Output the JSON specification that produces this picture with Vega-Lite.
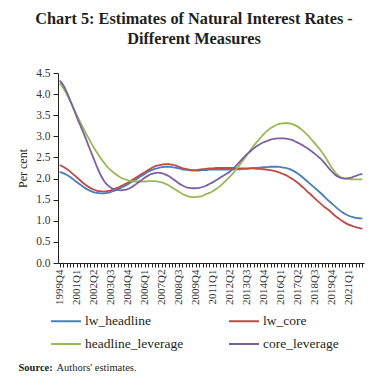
{
  "$schema": "https://vega.github.io/schema/vega-lite/v6.json",
  "autosize": {"type": "none"},
  "width": 306,
  "height": 190,
  "padding": {"left": 58, "top": 73, "right": 24, "bottom": 125},
  "background": "white",
  "title": {
    "text": ["Chart 5: Estimates of Natural Interest Rates -", "Different Measures"],
    "font": "Liberation Serif",
    "fontSize": 16.3,
    "fontWeight": "bold",
    "color": "#231F20",
    "anchor": "middle",
    "dx": -17,
    "offset": 20,
    "lineHeight": 20
  },
  "data": {
    "values": [
      {"q": "1999Q4", "lw_headline": 2.16, "lw_core": 2.32, "headline_leverage": 4.26, "core_leverage": 4.32},
      {"q": "2000Q1", "lw_headline": 2.13, "lw_core": 2.28, "headline_leverage": 4.15, "core_leverage": 4.22},
      {"q": "2000Q2", "lw_headline": 2.09, "lw_core": 2.23, "headline_leverage": 4.01, "core_leverage": 4.06},
      {"q": "2000Q3", "lw_headline": 2.04, "lw_core": 2.17, "headline_leverage": 3.85, "core_leverage": 3.87},
      {"q": "2000Q4", "lw_headline": 1.98, "lw_core": 2.10, "headline_leverage": 3.68, "core_leverage": 3.67},
      {"q": "2001Q1", "lw_headline": 1.92, "lw_core": 2.03, "headline_leverage": 3.51, "core_leverage": 3.46},
      {"q": "2001Q2", "lw_headline": 1.86, "lw_core": 1.96, "headline_leverage": 3.34, "core_leverage": 3.27},
      {"q": "2001Q3", "lw_headline": 1.80, "lw_core": 1.89, "headline_leverage": 3.18, "core_leverage": 3.08},
      {"q": "2001Q4", "lw_headline": 1.75, "lw_core": 1.83, "headline_leverage": 3.03, "core_leverage": 2.88},
      {"q": "2002Q1", "lw_headline": 1.71, "lw_core": 1.78, "headline_leverage": 2.88, "core_leverage": 2.67},
      {"q": "2002Q2", "lw_headline": 1.68, "lw_core": 1.74, "headline_leverage": 2.74, "core_leverage": 2.47},
      {"q": "2002Q3", "lw_headline": 1.66, "lw_core": 1.71, "headline_leverage": 2.61, "core_leverage": 2.27},
      {"q": "2002Q4", "lw_headline": 1.65, "lw_core": 1.70, "headline_leverage": 2.49, "core_leverage": 2.09},
      {"q": "2003Q1", "lw_headline": 1.65, "lw_core": 1.69, "headline_leverage": 2.38, "core_leverage": 1.95},
      {"q": "2003Q2", "lw_headline": 1.66, "lw_core": 1.70, "headline_leverage": 2.28, "core_leverage": 1.85},
      {"q": "2003Q3", "lw_headline": 1.68, "lw_core": 1.72, "headline_leverage": 2.20, "core_leverage": 1.79},
      {"q": "2003Q4", "lw_headline": 1.71, "lw_core": 1.75, "headline_leverage": 2.13, "core_leverage": 1.75},
      {"q": "2004Q1", "lw_headline": 1.74, "lw_core": 1.78, "headline_leverage": 2.07, "core_leverage": 1.73},
      {"q": "2004Q2", "lw_headline": 1.78, "lw_core": 1.82, "headline_leverage": 2.02, "core_leverage": 1.72},
      {"q": "2004Q3", "lw_headline": 1.82, "lw_core": 1.86, "headline_leverage": 1.99, "core_leverage": 1.73},
      {"q": "2004Q4", "lw_headline": 1.86, "lw_core": 1.90, "headline_leverage": 1.96, "core_leverage": 1.75},
      {"q": "2005Q1", "lw_headline": 1.91, "lw_core": 1.95, "headline_leverage": 1.94, "core_leverage": 1.79},
      {"q": "2005Q2", "lw_headline": 1.96, "lw_core": 2.00, "headline_leverage": 1.93, "core_leverage": 1.84},
      {"q": "2005Q3", "lw_headline": 2.01, "lw_core": 2.05, "headline_leverage": 1.93, "core_leverage": 1.90},
      {"q": "2005Q4", "lw_headline": 2.06, "lw_core": 2.10, "headline_leverage": 1.93, "core_leverage": 1.96},
      {"q": "2006Q1", "lw_headline": 2.11, "lw_core": 2.15, "headline_leverage": 1.93, "core_leverage": 2.02},
      {"q": "2006Q2", "lw_headline": 2.16, "lw_core": 2.20, "headline_leverage": 1.94, "core_leverage": 2.07},
      {"q": "2006Q3", "lw_headline": 2.20, "lw_core": 2.25, "headline_leverage": 1.94, "core_leverage": 2.11},
      {"q": "2006Q4", "lw_headline": 2.23, "lw_core": 2.29, "headline_leverage": 1.94, "core_leverage": 2.13},
      {"q": "2007Q1", "lw_headline": 2.25, "lw_core": 2.31, "headline_leverage": 1.93, "core_leverage": 2.14},
      {"q": "2007Q2", "lw_headline": 2.27, "lw_core": 2.33, "headline_leverage": 1.91, "core_leverage": 2.13},
      {"q": "2007Q3", "lw_headline": 2.28, "lw_core": 2.34, "headline_leverage": 1.88, "core_leverage": 2.10},
      {"q": "2007Q4", "lw_headline": 2.28, "lw_core": 2.34, "headline_leverage": 1.84, "core_leverage": 2.06},
      {"q": "2008Q1", "lw_headline": 2.27, "lw_core": 2.33, "headline_leverage": 1.79, "core_leverage": 2.01},
      {"q": "2008Q2", "lw_headline": 2.26, "lw_core": 2.31, "headline_leverage": 1.74, "core_leverage": 1.95},
      {"q": "2008Q3", "lw_headline": 2.24, "lw_core": 2.28, "headline_leverage": 1.69, "core_leverage": 1.89},
      {"q": "2008Q4", "lw_headline": 2.22, "lw_core": 2.25, "headline_leverage": 1.64, "core_leverage": 1.84},
      {"q": "2009Q1", "lw_headline": 2.21, "lw_core": 2.23, "headline_leverage": 1.60, "core_leverage": 1.80},
      {"q": "2009Q2", "lw_headline": 2.20, "lw_core": 2.21, "headline_leverage": 1.57, "core_leverage": 1.78},
      {"q": "2009Q3", "lw_headline": 2.19, "lw_core": 2.20, "headline_leverage": 1.56, "core_leverage": 1.77},
      {"q": "2009Q4", "lw_headline": 2.19, "lw_core": 2.20, "headline_leverage": 1.56, "core_leverage": 1.77},
      {"q": "2010Q1", "lw_headline": 2.19, "lw_core": 2.21, "headline_leverage": 1.57, "core_leverage": 1.78},
      {"q": "2010Q2", "lw_headline": 2.20, "lw_core": 2.22, "headline_leverage": 1.59, "core_leverage": 1.80},
      {"q": "2010Q3", "lw_headline": 2.20, "lw_core": 2.23, "headline_leverage": 1.63, "core_leverage": 1.83},
      {"q": "2010Q4", "lw_headline": 2.21, "lw_core": 2.24, "headline_leverage": 1.66, "core_leverage": 1.87},
      {"q": "2011Q1", "lw_headline": 2.21, "lw_core": 2.24, "headline_leverage": 1.70, "core_leverage": 1.91},
      {"q": "2011Q2", "lw_headline": 2.21, "lw_core": 2.25, "headline_leverage": 1.75, "core_leverage": 1.96},
      {"q": "2011Q3", "lw_headline": 2.21, "lw_core": 2.25, "headline_leverage": 1.81, "core_leverage": 2.01},
      {"q": "2011Q4", "lw_headline": 2.21, "lw_core": 2.25, "headline_leverage": 1.88, "core_leverage": 2.06},
      {"q": "2012Q1", "lw_headline": 2.21, "lw_core": 2.25, "headline_leverage": 1.96, "core_leverage": 2.11},
      {"q": "2012Q2", "lw_headline": 2.21, "lw_core": 2.25, "headline_leverage": 2.04, "core_leverage": 2.16},
      {"q": "2012Q3", "lw_headline": 2.22, "lw_core": 2.25, "headline_leverage": 2.13, "core_leverage": 2.23},
      {"q": "2012Q4", "lw_headline": 2.22, "lw_core": 2.24, "headline_leverage": 2.23, "core_leverage": 2.31},
      {"q": "2013Q1", "lw_headline": 2.22, "lw_core": 2.24, "headline_leverage": 2.33, "core_leverage": 2.40},
      {"q": "2013Q2", "lw_headline": 2.23, "lw_core": 2.24, "headline_leverage": 2.44, "core_leverage": 2.49},
      {"q": "2013Q3", "lw_headline": 2.23, "lw_core": 2.24, "headline_leverage": 2.55, "core_leverage": 2.57},
      {"q": "2013Q4", "lw_headline": 2.24, "lw_core": 2.24, "headline_leverage": 2.66, "core_leverage": 2.64},
      {"q": "2014Q1", "lw_headline": 2.25, "lw_core": 2.24, "headline_leverage": 2.77, "core_leverage": 2.71},
      {"q": "2014Q2", "lw_headline": 2.25, "lw_core": 2.23, "headline_leverage": 2.87, "core_leverage": 2.77},
      {"q": "2014Q3", "lw_headline": 2.26, "lw_core": 2.23, "headline_leverage": 2.96, "core_leverage": 2.82},
      {"q": "2014Q4", "lw_headline": 2.27, "lw_core": 2.22, "headline_leverage": 3.05, "core_leverage": 2.86},
      {"q": "2015Q1", "lw_headline": 2.27, "lw_core": 2.21, "headline_leverage": 3.13, "core_leverage": 2.89},
      {"q": "2015Q2", "lw_headline": 2.28, "lw_core": 2.20, "headline_leverage": 3.19, "core_leverage": 2.92},
      {"q": "2015Q3", "lw_headline": 2.28, "lw_core": 2.18, "headline_leverage": 3.24, "core_leverage": 2.94},
      {"q": "2015Q4", "lw_headline": 2.28, "lw_core": 2.16, "headline_leverage": 3.28, "core_leverage": 2.95},
      {"q": "2016Q1", "lw_headline": 2.27, "lw_core": 2.13, "headline_leverage": 3.30, "core_leverage": 2.95},
      {"q": "2016Q2", "lw_headline": 2.26, "lw_core": 2.10, "headline_leverage": 3.31, "core_leverage": 2.95},
      {"q": "2016Q3", "lw_headline": 2.24, "lw_core": 2.06, "headline_leverage": 3.31, "core_leverage": 2.94},
      {"q": "2016Q4", "lw_headline": 2.21, "lw_core": 2.01, "headline_leverage": 3.30, "core_leverage": 2.92},
      {"q": "2017Q1", "lw_headline": 2.17, "lw_core": 1.96, "headline_leverage": 3.27, "core_leverage": 2.89},
      {"q": "2017Q2", "lw_headline": 2.12, "lw_core": 1.90, "headline_leverage": 3.23, "core_leverage": 2.85},
      {"q": "2017Q3", "lw_headline": 2.06, "lw_core": 1.83, "headline_leverage": 3.17, "core_leverage": 2.81},
      {"q": "2017Q4", "lw_headline": 1.99, "lw_core": 1.76, "headline_leverage": 3.10, "core_leverage": 2.76},
      {"q": "2018Q1", "lw_headline": 1.92, "lw_core": 1.68, "headline_leverage": 3.02, "core_leverage": 2.71},
      {"q": "2018Q2", "lw_headline": 1.85, "lw_core": 1.61, "headline_leverage": 2.93, "core_leverage": 2.65},
      {"q": "2018Q3", "lw_headline": 1.78, "lw_core": 1.53, "headline_leverage": 2.84, "core_leverage": 2.59},
      {"q": "2018Q4", "lw_headline": 1.71, "lw_core": 1.46, "headline_leverage": 2.74, "core_leverage": 2.52},
      {"q": "2019Q1", "lw_headline": 1.64, "lw_core": 1.39, "headline_leverage": 2.64, "core_leverage": 2.45},
      {"q": "2019Q2", "lw_headline": 1.56, "lw_core": 1.32, "headline_leverage": 2.52, "core_leverage": 2.36},
      {"q": "2019Q3", "lw_headline": 1.48, "lw_core": 1.26, "headline_leverage": 2.39, "core_leverage": 2.26},
      {"q": "2019Q4", "lw_headline": 1.41, "lw_core": 1.19, "headline_leverage": 2.26, "core_leverage": 2.17},
      {"q": "2020Q1", "lw_headline": 1.34, "lw_core": 1.12, "headline_leverage": 2.15, "core_leverage": 2.09},
      {"q": "2020Q2", "lw_headline": 1.27, "lw_core": 1.06, "headline_leverage": 2.07, "core_leverage": 2.04},
      {"q": "2020Q3", "lw_headline": 1.21, "lw_core": 1.00, "headline_leverage": 2.02, "core_leverage": 2.01},
      {"q": "2020Q4", "lw_headline": 1.16, "lw_core": 0.95, "headline_leverage": 2.00, "core_leverage": 2.00},
      {"q": "2021Q1", "lw_headline": 1.12, "lw_core": 0.91, "headline_leverage": 1.99, "core_leverage": 2.01},
      {"q": "2021Q2", "lw_headline": 1.09, "lw_core": 0.88, "headline_leverage": 1.98, "core_leverage": 2.03},
      {"q": "2021Q3", "lw_headline": 1.07, "lw_core": 0.85, "headline_leverage": 1.98, "core_leverage": 2.06},
      {"q": "2021Q4", "lw_headline": 1.06, "lw_core": 0.83, "headline_leverage": 1.98, "core_leverage": 2.09},
      {"q": "2022Q1", "lw_headline": 1.05, "lw_core": 0.81, "headline_leverage": 1.98, "core_leverage": 2.11}
    ]
  },
  "transform": [
    {"fold": ["lw_headline", "lw_core", "headline_leverage", "core_leverage"], "as": ["series", "value"]}
  ],
  "encoding": {
    "y": {
      "field": "value",
      "type": "quantitative",
      "scale": {"domain": [0, 4.5], "nice": false, "zero": true},
      "axis": {
        "title": "Per cent",
        "titleFont": "Liberation Serif",
        "titleFontSize": 12,
        "titleFontWeight": "normal",
        "titleColor": "#231F20",
        "titlePadding": 6,
        "values": [0, 0.5, 1, 1.5, 2, 2.5, 3, 3.5, 4, 4.5],
        "labelExpr": "format(datum.value, '.1f')",
        "labelOverlap": false,
        "labelFont": "Liberation Serif",
        "labelFontSize": 11.5,
        "labelColor": "#333333",
        "labelPadding": 3,
        "tickSize": 5,
        "tickColor": "#222222",
        "domainColor": "#222222",
        "grid": false
      }
    }
  },
  "layer": [
    {
      "mark": {"type": "line", "strokeWidth": 1.8, "interpolate": "monotone"},
      "encoding": {
        "x": {
          "field": "q",
          "type": "ordinal",
          "scale": {"type": "point", "padding": 0.5},
          "axis": {
            "title": "Source:",
            "titleFont": "Liberation Serif",
            "titleFontSize": 10.5,
            "titleFontWeight": "bold",
            "titleColor": "#231F20",
            "titleAnchor": "start",
            "titleAlign": "left",
            "titleBaseline": "alphabetic",
            "titleX": -40,
            "titleY": 107,
            "labelExpr": "(toNumber(substring(datum.value,0,4))*4 + toNumber(substring(datum.value,5,6)) - 8000) % 5 == 0 ? datum.value : ''",
            "labelAngle": -90,
            "labelAlign": "right",
            "labelBaseline": "middle",
            "labelOverlap": false,
            "labelFont": "Liberation Serif",
            "labelFontSize": 11,
            "labelColor": "#333333",
            "labelPadding": 2,
            "tickSize": 4,
            "tickColor": "#222222",
            "domainColor": "#222222",
            "grid": false
          }
        },
        "color": {
          "field": "series",
          "type": "nominal",
          "scale": {
            "domain": ["lw_headline", "lw_core", "headline_leverage", "core_leverage"],
            "range": ["#4A7EBB", "#BE4B48", "#98B954", "#7D60A0"]
          },
          "legend": {
            "title": null,
            "orient": "none",
            "legendX": -8,
            "legendY": 232,
            "direction": "horizontal",
            "columns": 2,
            "columnPadding": 41,
            "rowPadding": -8,
            "symbolType": "stroke",
            "symbolSize": 900,
            "symbolStrokeWidth": 2,
            "labelFont": "Liberation Serif",
            "labelFontSize": 13.5,
            "labelColor": "#231F20",
            "labelOffset": 3,
            "padding": 0
          }
        }
      }
    },
    {
      "mark": {"type": "point", "opacity": 0},
      "encoding": {
        "x": {
          "field": "q",
          "type": "ordinal",
          "axis": {
            "orient": "top",
            "title": "Authors' estimates.",
            "titleFont": "Liberation Serif",
            "titleFontSize": 10.5,
            "titleFontWeight": "normal",
            "titleColor": "#231F20",
            "titleAnchor": "start",
            "titleAlign": "left",
            "titleBaseline": "alphabetic",
            "titleX": -2,
            "titleY": 297,
            "labels": false,
            "ticks": false,
            "domain": false,
            "grid": false
          }
        }
      }
    }
  ],
  "resolve": {"axis": {"x": "independent"}},
  "config": {"view": {"stroke": null}}
}
